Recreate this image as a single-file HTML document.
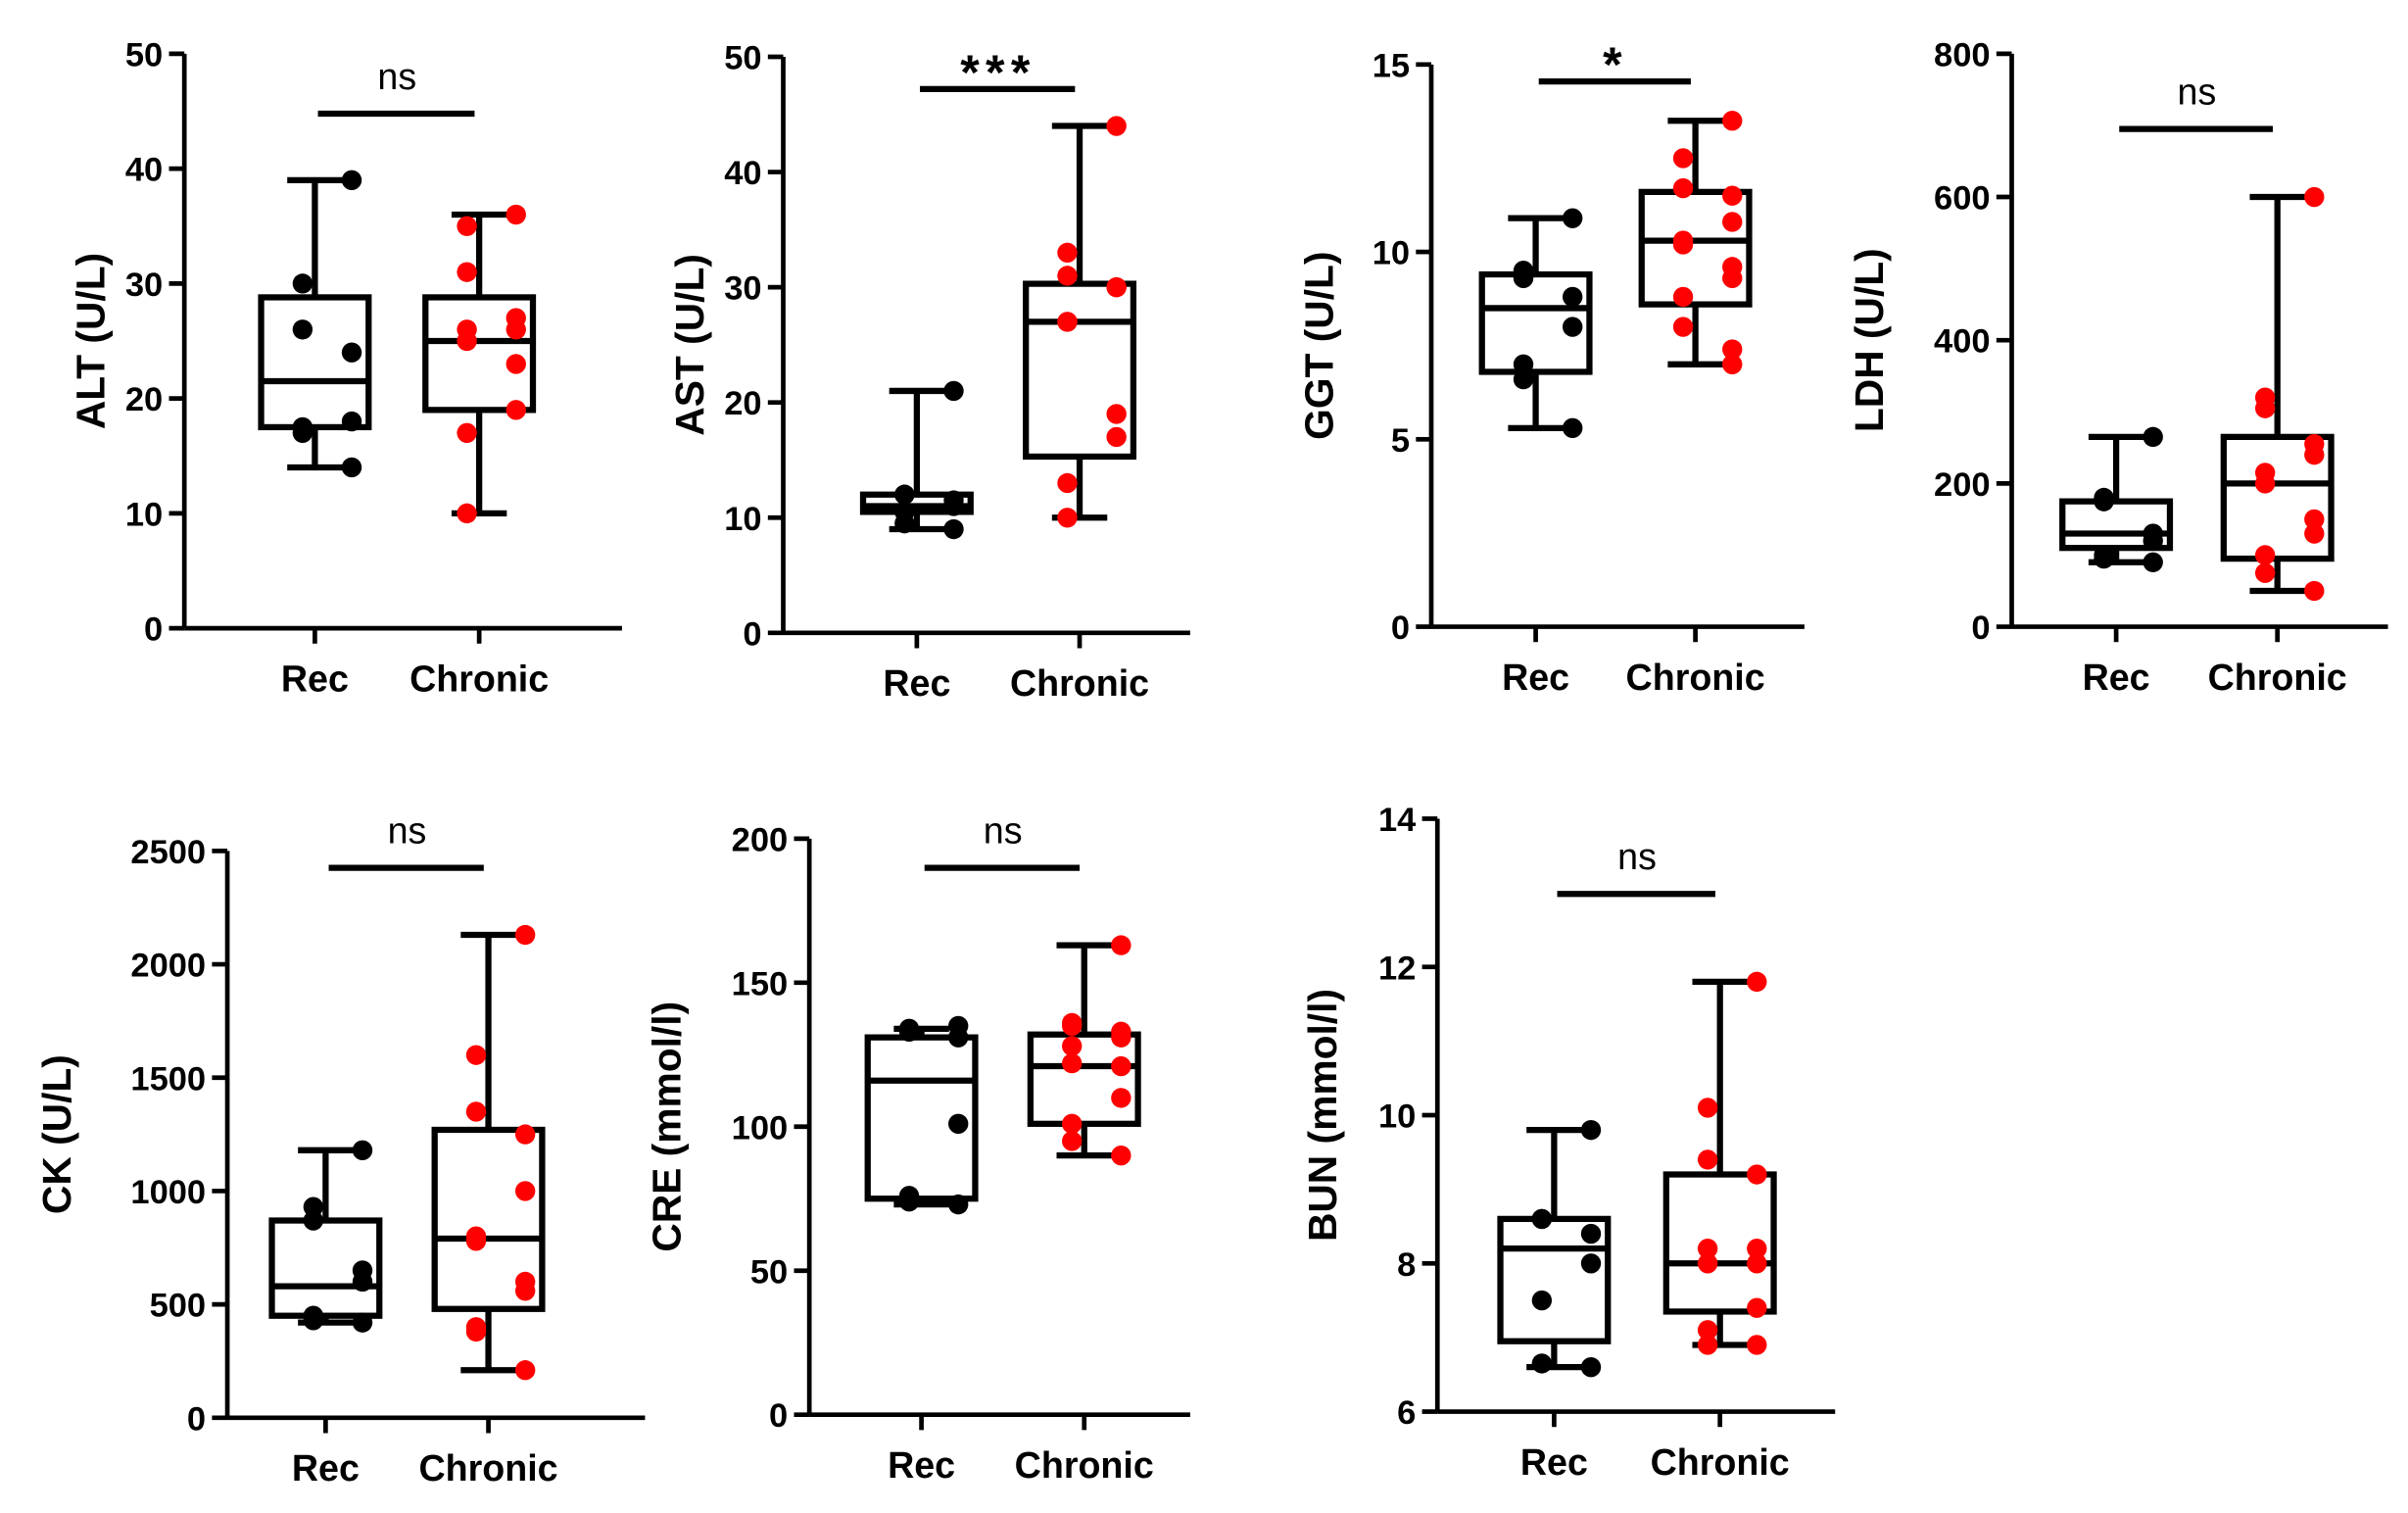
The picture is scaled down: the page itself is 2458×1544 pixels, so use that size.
<!DOCTYPE html>
<html><head><meta charset="utf-8"><style>
html,body{margin:0;padding:0;background:#fff;}
svg{display:block;}
text{font-family:"Liberation Sans",Arial,sans-serif;fill:#000;}
</style></head><body>
<svg id="chart" width="2458" height="1544" viewBox="0 0 1568 985" xmlns="http://www.w3.org/2000/svg"></svg>
<script>
const panelNames = ["ALT (U/L)","AST (U/L)","GGT (U/L)","LDH (U/L)","CK (U/L)","CRE (mmol/l)","BUN (mmol/l)"];
const categories = ["Rec","Chronic"];
const sigLabels = ["ns","***","*","ns","ns","ns","ns"];
const yTicks = [[0,10,20,30,40,50],[0,10,20,30,40,50],[0,5,10,15],[0,200,400,600,800],[0,500,1000,1500,2000,2500],[0,50,100,150,200],[6,8,10,12,14]];
// [min,q1,median,q3,max] per group
const recStats = [[14,17.5,21.5,28.8,39],[9,10.5,11,12,21],[5.3,6.8,8.5,9.4,10.9],[90,110,130,175,265],[420,450,580,870,1180],[73,75,116,131,134],[6.6,6.95,8.2,8.6,9.8]];
const chrStats = [[10,19,25,28.8,36],[10,15.3,27,30.3,44],[7,8.6,10.3,11.6,13.5],[50,95,200,265,600],[210,480,790,1270,2130],[90,101,121,132,163],[6.9,7.35,8.0,9.2,11.8]];
const recPoints = [[39,30,26,24,18,17.5,17,14],[21,12,12,11.5,11,10.5,9.5,9],[10.9,9.5,9.3,8.8,8.0,7.0,6.6,5.3],[265,180,175,130,120,100,95,90],[1180,930,870,650,600,450,430,420],[135,134,133,131,101,76,74,73],[9.8,8.6,8.6,8.4,8.0,7.5,6.65,6.6]];
const chrPoints = [[36,35,31,27,26,26,25,23,19,17,10],[44,33,31,30,30,27,27,19,17,13,10],[13.5,12.5,11.7,11.5,10.8,10.3,10.2,9.6,9.3,8.8,8.0,7.4,7.0],[600,320,305,255,240,215,200,150,130,100,75,50],[2130,1600,1350,1250,1000,800,780,600,560,400,380,210],[163,136,135,133,131,128,122,121,110,101,95,90],[11.8,10.1,9.4,9.2,8.2,8.2,8.0,8.0,7.4,7.1,6.9,6.9]];
const sigStars = [false,true,true,false,false,false,false];
const layout = [
 {ax:120,y0:409,y1:35,xr:405,c1:205,c2:312,bar:74,lx:60},
 {ax:510,y0:412,y1:37,xr:775,c1:597,c2:703,bar:58,lx:450},
 {ax:932,y0:408,y1:42,xr:1175,c1:1000,c2:1104,bar:53,lx:860},
 {ax:1310,y0:408,y1:35,xr:1555,c1:1378,c2:1483,bar:84,lx:1218},
 {ax:148,y0:923,y1:554,xr:420,c1:212,c2:318,bar:565,lx:38},
 {ax:527,y0:921,y1:546,xr:775,c1:600,c2:706,bar:565,lx:435},
 {ax:936,y0:919,y1:533,xr:1195,c1:1012,c2:1120,bar:582,lx:862}
];
const svg=document.getElementById('chart');
const NS='http://www.w3.org/2000/svg';
function mk(t,a,p){const e=document.createElementNS(NS,t);for(const k in a)e.setAttribute(k,a[k]);(p||svg).appendChild(e);return e;}
function shortName(s){return s.split(' ')[0].toLowerCase();}
panelNames.forEach((nm,i)=>{
  const L=layout[i],tk=yTicks[i],lo=tk[0],hi=tk[tk.length-1];
  const y=v=>L.y0-(v-lo)/(hi-lo)*(L.y0-L.y1);
  const g=mk('g',{});
  
  
  const ya=mk('line',{x1:L.ax,y1:L.y0,x2:L.ax,y2:L.y1,stroke:'#000','stroke-width':3},g);
  
  const xa=mk('line',{x1:L.ax,y1:L.y0,x2:L.xr,y2:L.y0,stroke:'#000','stroke-width':3},g);
  
  tk.forEach(v=>{
    mk('line',{x1:L.ax-10,y1:y(v),x2:L.ax,y2:y(v),stroke:'#000','stroke-width':3},g);
    const t=mk('text',{x:L.ax-14,y:y(v)+8,'text-anchor':'end',style:'font-size:22px;font-weight:bold'},g);t.textContent=v;
    
  });
  const yt=mk('text',{x:0,y:0,'text-anchor':'middle',style:'font-size:26px;font-weight:bold',transform:`translate(${L.lx+8},${(L.y0+L.y1)/2}) rotate(-90)`},g);
  yt.textContent=nm;
  [[L.c1,recStats[i],recPoints[i],'#000',categories[0]],[L.c2,chrStats[i],chrPoints[i],'#f00',categories[1]]].forEach(([cx,s,pts,col,cat])=>{
    mk('line',{x1:cx,y1:L.y0,x2:cx,y2:L.y0+10,stroke:'#000','stroke-width':3},g);
    const ct=mk('text',{x:cx,y:L.y0+41,'text-anchor':'middle',style:'font-size:24px;font-weight:bold'},g);ct.textContent=cat;
    
    const bw=35,cw=18;
    mk('line',{x1:cx,y1:y(s[0]),x2:cx,y2:y(s[1]),stroke:'#000','stroke-width':4},g);
    mk('line',{x1:cx,y1:y(s[3]),x2:cx,y2:y(s[4]),stroke:'#000','stroke-width':4},g);
    mk('line',{x1:cx-cw,y1:y(s[0]),x2:cx+cw,y2:y(s[0]),stroke:'#000','stroke-width':4},g);
    mk('line',{x1:cx-cw,y1:y(s[4]),x2:cx+cw,y2:y(s[4]),stroke:'#000','stroke-width':4},g);
    const b=mk('rect',{x:cx-bw,y:y(s[3]),width:2*bw,height:y(s[1])-y(s[3]),fill:'none',stroke:'#000','stroke-width':4},g);
    
    mk('line',{x1:cx-bw,y1:y(s[2]),x2:cx+bw,y2:y(s[2]),stroke:'#000','stroke-width':4},g);
    pts.forEach((v,j)=>{
      const off=((j%4)-1.5)*16*(j%2?1:-1);
      const p=mk('circle',{cx:cx+off,cy:y(v),r:6.5,fill:col},g);
      
    });
  });
  const sb=mk('line',{x1:L.c1+2,y1:L.bar,x2:L.c2-3,y2:L.bar,stroke:'#000','stroke-width':4},g);
  
  const st=mk('text',{x:(L.c1+L.c2)/2,y:L.bar-(sigStars[i]?0:16),'text-anchor':'middle',style:sigStars[i]?'font-size:32px;font-weight:bold;letter-spacing:4px':'font-size:24px;font-weight:normal'},g);
  st.textContent=sigLabels[i];
  
});
</script>
</body></html>
